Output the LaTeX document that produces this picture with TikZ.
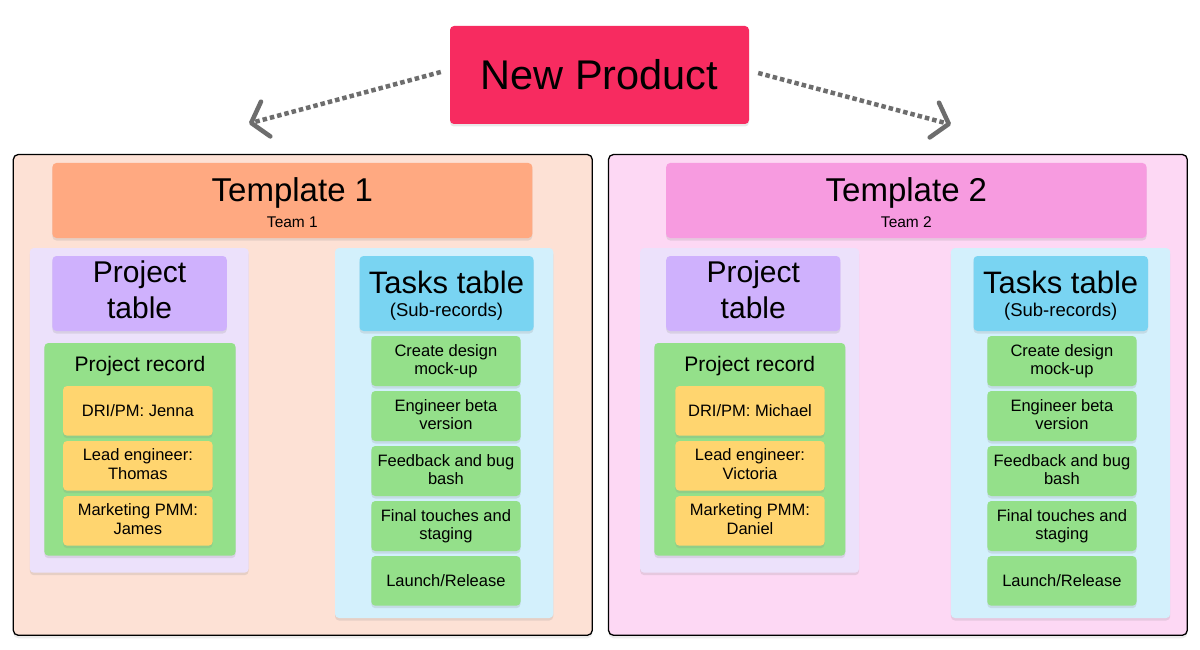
\documentclass[tikz,border=0pt]{standalone}
\usepackage{fontspec}
\setmainfont{Liberation Sans}
\usetikzlibrary{shadows,arrows.meta}
\definecolor{npc}{HTML}{F72B60}
\definecolor{toutA}{HTML}{FDE1D5}
\definecolor{theadA}{HTML}{FFA981}
\definecolor{toutB}{HTML}{FDD8F4}
\definecolor{theadB}{HTML}{F79BE0}
\definecolor{ppanel}{HTML}{ECE1FB}
\definecolor{phead}{HTML}{CFB1FD}
\definecolor{tpanel}{HTML}{D3F0FC}
\definecolor{thead}{HTML}{79D4F2}
\definecolor{grn}{HTML}{94E08A}
\definecolor{ylw}{HTML}{FFD56F}
\definecolor{arrg}{HTML}{6D6D6D}
\newcommand\cstrut{\rule[-\dimexpr(\baselineskip-0.716em)/2\relax]{0pt}{\baselineskip}}
\tikzset{
  rect/.style n args={4}{at={({(#1+#3)/2},{(#2+#4)/2})},
    minimum width={(#3-#1)*1pt}, minimum height={(#4-#2)*1pt}},
  box/.style={rounded corners=4pt, inner sep=0pt, draw=none, anchor=center,
    drop shadow={shadow xshift=0pt, shadow yshift=-2.5pt, opacity=0.18}},
  outer/.style={rounded corners=5pt, inner sep=0pt, draw=black, line width=1.3pt, anchor=center,
    drop shadow={shadow xshift=0pt, shadow yshift=-3pt, opacity=0.15}},
  ctext/.style={align=center, execute at begin node=\cstrut, execute at end node=\cstrut},
  item/.style={box, ctext, font=\fontsize{16.5}{18.5}\selectfont},
  ybox/.style={item, fill=ylw},
  gbox/.style={item, fill=grn},
  tx/.style={inner sep=0pt, anchor=base},
  dotarrow/.style={draw=arrg, line width=4.5pt, dash pattern=on 4.5pt off 3pt,
    -{Straight Barb[round, length=15pt, width=36pt]}},
}
\begin{document}
\begin{tikzpicture}[x=1pt, y=-1pt]
\fill[white] (0,0) rectangle (1200,650);

% New product
\node[box, ctext, fill=npc, font=\fontsize{41.5}{48}\selectfont, rect={450}{26}{749}{124}] (np) {New Product};
\coordinate (a1) at (249,123.5);
\coordinate (a2) at (951,124.5);
\draw[dotarrow] ([shift={(-9,-3)}]np.west) -- (a1);
\draw[dotarrow] ([shift={(9,-2)}]np.east) -- (a2);

% ===== Template 1 =====
\node[outer, fill=toutA, rect={13.3}{154.5}{592.3}{635.3}] (t1) {};
\node[box, fill=theadA, rect={52.4}{163}{532.3}{238}] (t1h) {};
\node[tx, font=\fontsize{33}{40}\selectfont] (t1title) at (292.4,201) {Template 1};
\node[tx, font=\fontsize{15.5}{18}\selectfont] (t1team) at (292.4,227.7) {Team 1};

\node[box, fill=ppanel, rect={29.8}{248}{248.6}{572.7}] (p1) {};
\node[box, ctext, fill=phead, font=\fontsize{30}{36}\selectfont, rect={52.4}{256}{226.8}{331}] (p1h) {Project\\table};
\node[box, fill=grn, rect={44.4}{343}{235.6}{555.7}] (r1) {};
\node[tx, font=\fontsize{21}{25}\selectfont] (r1t) at (140,371) {Project record};
\node[ybox, rect={63.1}{386}{212.6}{435.7}] (y1a) {DRI/PM: Jenna};
\node[ybox, rect={63.1}{441}{212.6}{490.7}] (y1b) {Lead engineer:\\Thomas};
\node[ybox, rect={63.1}{496}{212.6}{545.7}] (y1c) {Marketing PMM:\\James};

\node[box, fill=tpanel, rect={335}{248}{553.3}{618}] (k1) {};
\node[box, fill=thead, rect={359.5}{256}{533.5}{331}] (k1h) {};
\node[tx, font=\fontsize{31}{36}\selectfont] (k1t) at (446.5,293) {Tasks table};
\node[tx, font=\fontsize{18.5}{22}\selectfont] (k1s) at (446.5,316.5) {(Sub-records)};
\node[gbox, rect={371.3}{336}{520.5}{386}] (g1a) {Create design\\mock-up};
\node[gbox, rect={371.3}{391}{520.5}{441}] (g1b) {Engineer beta\\version};
\node[gbox, rect={371.3}{446}{520.5}{496}] (g1c) {Feedback and bug\\bash};
\node[gbox, rect={371.3}{501}{520.5}{551}] (g1d) {Final touches and\\staging};
\node[gbox, rect={371.3}{556}{520.5}{605.7}] (g1e) {Launch/Release};

% ===== Template 2 =====
\node[outer, fill=toutB, rect={608.5}{154.5}{1187.3}{635.3}] (t2) {};
\node[box, fill=theadB, rect={666.2}{163}{1146.5}{238}] (t2h) {};
\node[tx, font=\fontsize{33}{40}\selectfont] (t2title) at (906.4,201) {Template 2};
\node[tx, font=\fontsize{15.5}{18}\selectfont] (t2team) at (906.4,227.7) {Team 2};

\node[box, fill=ppanel, rect={640.2}{248}{859.1}{572.7}] (p2) {};
\node[box, ctext, fill=phead, font=\fontsize{30}{36}\selectfont, rect={666.2}{256}{840.3}{331}] (p2h) {Project\\table};
\node[box, fill=grn, rect={654.3}{343}{845.3}{555.7}] (r2) {};
\node[tx, font=\fontsize{21}{25}\selectfont] (r2t) at (749.8,371) {Project record};
\node[ybox, rect={675.4}{386}{824.6}{435.7}] (y2a) {DRI/PM: Michael};
\node[ybox, rect={675.4}{441}{824.6}{490.7}] (y2b) {Lead engineer:\\Victoria};
\node[ybox, rect={675.4}{496}{824.6}{545.7}] (y2c) {Marketing PMM:\\Daniel};

\node[box, fill=tpanel, rect={950.9}{248}{1170.2}{618}] (k2) {};
\node[box, fill=thead, rect={973.5}{256}{1148}{331}] (k2h) {};
\node[tx, font=\fontsize{31}{36}\selectfont] (k2t) at (1060.7,293) {Tasks table};
\node[tx, font=\fontsize{18.5}{22}\selectfont] (k2s) at (1060.7,316.5) {(Sub-records)};
\node[gbox, rect={987.3}{336}{1136.5}{386}] (g2a) {Create design\\mock-up};
\node[gbox, rect={987.3}{391}{1136.5}{441}] (g2b) {Engineer beta\\version};
\node[gbox, rect={987.3}{446}{1136.5}{496}] (g2c) {Feedback and bug\\bash};
\node[gbox, rect={987.3}{501}{1136.5}{551}] (g2d) {Final touches and\\staging};
\node[gbox, rect={987.3}{556}{1136.5}{605.7}] (g2e) {Launch/Release};
\end{tikzpicture}
\end{document}
